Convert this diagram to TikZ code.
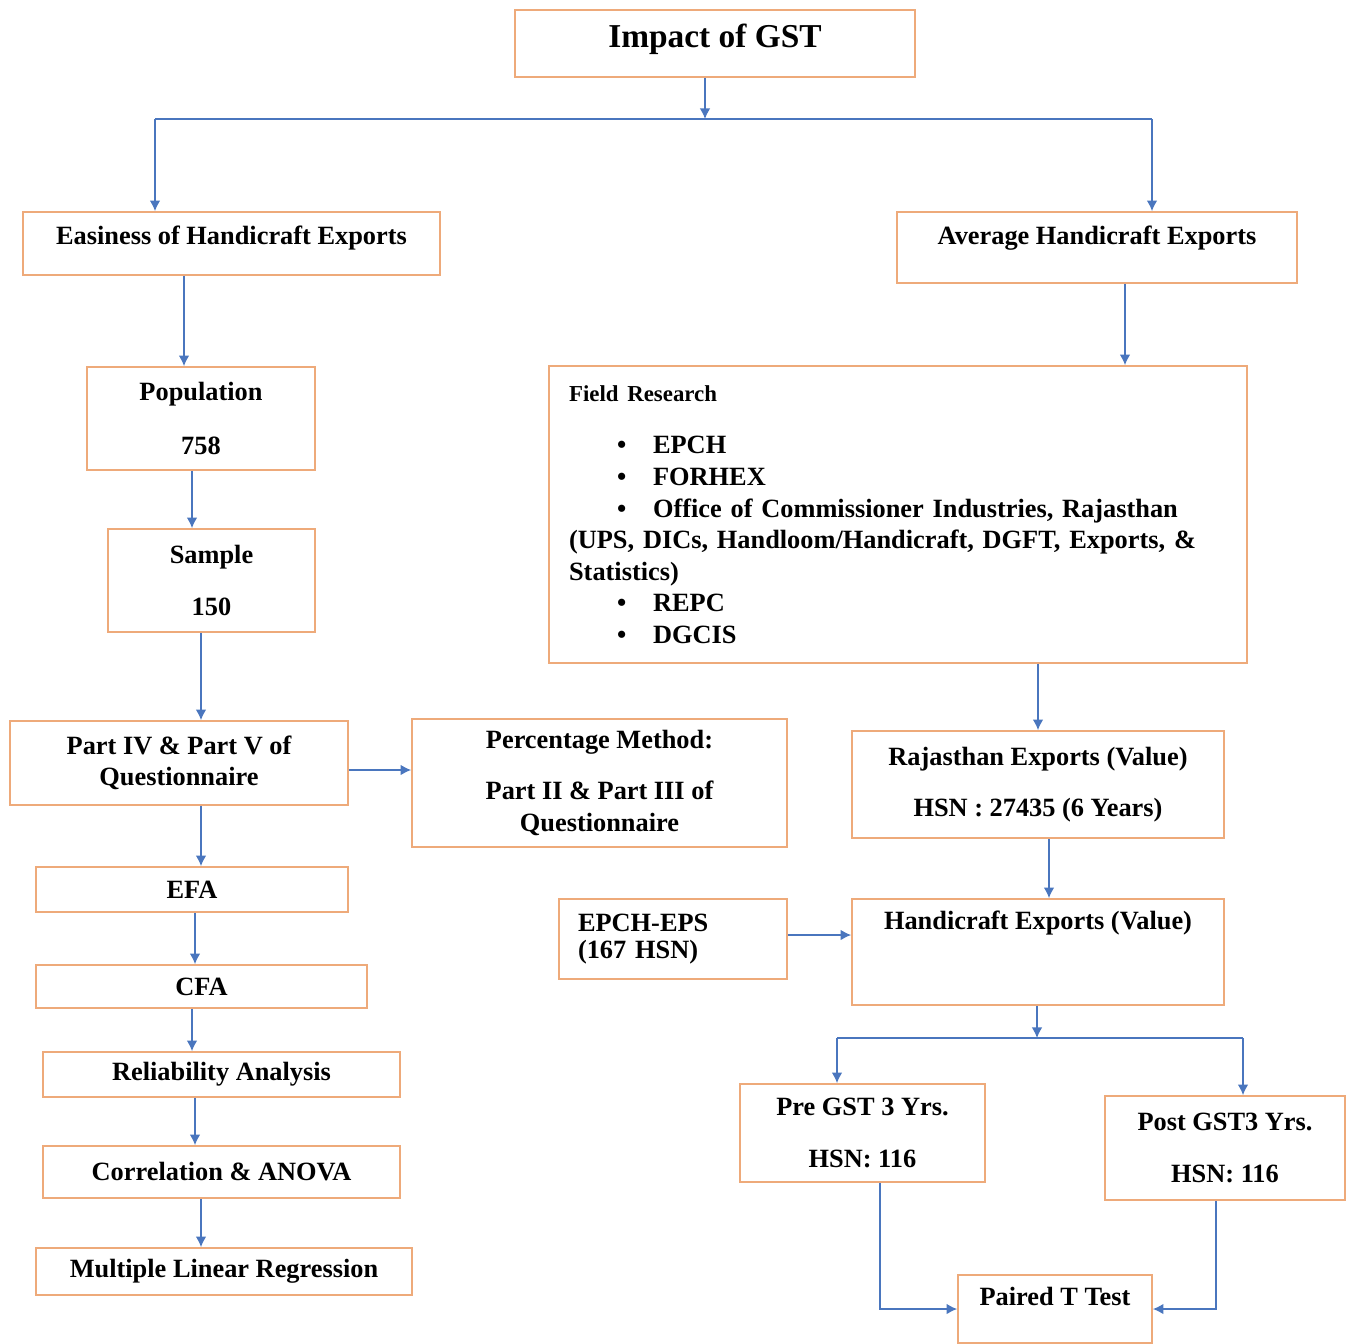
\documentclass[tikz,border=0pt]{standalone}
\usepackage{fontspec}
\setmainfont{Liberation Serif}
\usetikzlibrary{positioning, arrows.meta}
\definecolor{boxorange}{RGB}{238,170,122}
\definecolor{arrowblue}{RGB}{74,118,190}

\begin{document}
\begin{tikzpicture}[
x=0.02cm, y=-0.02cm,
box/.style={rectangle, draw=boxorange, line width=1pt, align=center, inner sep=5pt, font=\fontsize{15}{18}\selectfont\bfseries},
arrow/.style={-{Latex[width=6pt,length=6pt]}, draw=arrowblue, line width=0.8pt},
line/.style={draw=arrowblue, line width=0.8pt}
]
\useasboundingbox (0,0) rectangle (1354,1343);

% Top
\node[box, minimum width=8cm, minimum height=1.34cm, text depth=9pt, font=\fontsize{19}{22}\selectfont\bfseries] (gst) at (715,43.5) {Impact of GST};

\node[box, minimum width=8.34cm, minimum height=1.26cm, text depth=10pt] (easy) at (231.5,243.5) {Easiness of Handicraft Exports};
\node[box, minimum width=8cm, minimum height=1.42cm, text depth=14pt] (avg) at (1097,247.5) {Average Handicraft Exports};

% Left branch
\node[box, minimum width=4.56cm, minimum height=2.06cm] (pop) at (201,418.5) {Population\\[13pt]758};
\node[box, minimum width=4.14cm, minimum height=2.06cm] (samp) at (211.5,580.5) {Sample\\[12pt]150};
\node[box, minimum width=6.76cm, minimum height=1.68cm] (part) at (179,763) {Part IV \& Part V of\\Questionnaire};
\node[box, minimum width=7.5cm, minimum height=2.56cm] (perc) at (599.5,783) {Percentage Method:\\[11pt]Part II \& Part III of\\Questionnaire};
\node[box, minimum width=6.24cm, minimum height=0.9cm] (efa) at (192,889.5) {EFA};
\node[box, minimum width=6.62cm, minimum height=0.86cm] (cfa) at (201.5,986.5) {CFA};
\node[box, minimum width=7.14cm, minimum height=0.9cm] (rel) at (221.5,1074.5) {Reliability Analysis};
\node[box, minimum width=7.14cm, minimum height=1.04cm] (corr) at (221.5,1172) {Correlation \& ANOVA};
\node[box, minimum width=7.52cm, minimum height=0.94cm] (mlr) at (224,1271.5) {Multiple Linear Regression};

% Right branch
\node[box, minimum width=13.96cm, minimum height=5.94cm, text width=13.16cm, align=left] (field) at (898,514.5) {
{\fontsize{13}{18}\selectfont Field Research}\\[12pt]
\hspace*{0.96cm}\makebox[0.72cm][l]{\textbullet}EPCH\\
\hspace*{0.96cm}\makebox[0.72cm][l]{\textbullet}FORHEX\\
\hspace*{0.96cm}\makebox[0.72cm][l]{\textbullet}Office of Commissioner Industries, Rajasthan\\
(UPS, DICs, Handloom/Handicraft, DGFT, Exports, \&\\
Statistics)\\
\hspace*{0.96cm}\makebox[0.72cm][l]{\textbullet}REPC\\
\hspace*{0.96cm}\makebox[0.72cm][l]{\textbullet}DGCIS};

\node[box, minimum width=7.44cm, minimum height=2.14cm] (raj) at (1038,784.5) {Rajasthan Exports (Value)\\[11pt]HSN : 27435 (6 Years)};
\node[box, minimum width=7.44cm, minimum height=2.12cm, text height=10pt, text depth=36pt] (hand) at (1038,952) {Handicraft Exports (Value)};
\node[box, minimum width=4.56cm, minimum height=1.6cm, text width=3.8cm, align=left, font=\fontsize{15}{15}\selectfont\bfseries] (epch) at (673,939) {EPCH-EPS\\ (167 HSN)};

\node[box, minimum width=4.9cm, minimum height=1.96cm] (pre) at (862.5,1133) {Pre GST 3 Yrs.\\[12pt]HSN: 116};
\node[box, minimum width=4.8cm, minimum height=2.08cm] (post) at (1225,1148) {Post GST3 Yrs.\\[12pt]HSN: 116};
\node[box, minimum width=3.88cm, minimum height=1.36cm, text depth=14pt] (paired) at (1055,1309) {Paired T Test};

% Arrows - top split
\coordinate (split) at (705,119);
\coordinate (splitl) at (155,119);
\coordinate (splitr) at (1152,119);
\draw[arrow] (gst.south -| split) -- (split);
\draw[line] (splitl) -- (splitr);
\draw[arrow] (splitl) -- (splitl |- easy.north);
\draw[arrow] (splitr) -- (splitr |- avg.north);

% Arrows - left
\draw[arrow] ([xshift=-0.34cm]pop.north |- easy.south) -- ([xshift=-0.34cm]pop.north);
\draw[arrow] ([xshift=-0.39cm]samp.north |- pop.south) -- ([xshift=-0.39cm]samp.north);
\draw[arrow] ([xshift=0.44cm]part.north |- samp.south) -- ([xshift=0.44cm]part.north);
\draw[arrow] ([yshift=-0.14cm]part.east) -- ([yshift=-0.14cm]part.east -| perc.west);
\draw[arrow] ([xshift=0.18cm]efa.north |- part.south) -- ([xshift=0.18cm]efa.north);
\draw[arrow] ([xshift=-0.13cm]cfa.north |- efa.south) -- ([xshift=-0.13cm]cfa.north);
\draw[arrow] ([xshift=-0.59cm]rel.north |- cfa.south) -- ([xshift=-0.59cm]rel.north);
\draw[arrow] ([xshift=-0.53cm]corr.north |- rel.south) -- ([xshift=-0.53cm]corr.north);
\draw[arrow] ([xshift=-0.46cm]mlr.north |- corr.south) -- ([xshift=-0.46cm]mlr.north);

% Arrows - right
\draw[arrow] ([xshift=0.56cm]avg.south) -- ([xshift=0.56cm]avg.south |- field.north);
\draw[arrow] (raj.north |- field.south) -- (raj.north);
\draw[arrow] ([xshift=0.22cm]hand.north |- raj.south) -- ([xshift=0.22cm]hand.north);
\draw[arrow] ([yshift=0.08cm]epch.east) -- ([yshift=0.08cm]epch.east -| hand.west);

\coordinate (fork) at (1037,1038);
\coordinate (forkl) at (837,1038);
\coordinate (forkr) at (1243,1038);
\draw[arrow] (hand.south -| fork) -- (fork);
\draw[line] (forkl) -- (forkr);
\draw[arrow] (forkl) -- (forkl |- pre.north);
\draw[arrow] (forkr) -- (forkr |- post.north);
\draw[arrow] ([xshift=0.35cm]pre.south) |- (paired.west);
\draw[arrow] ([xshift=-0.18cm]post.south) |- (paired.east);

\end{tikzpicture}
\end{document}
